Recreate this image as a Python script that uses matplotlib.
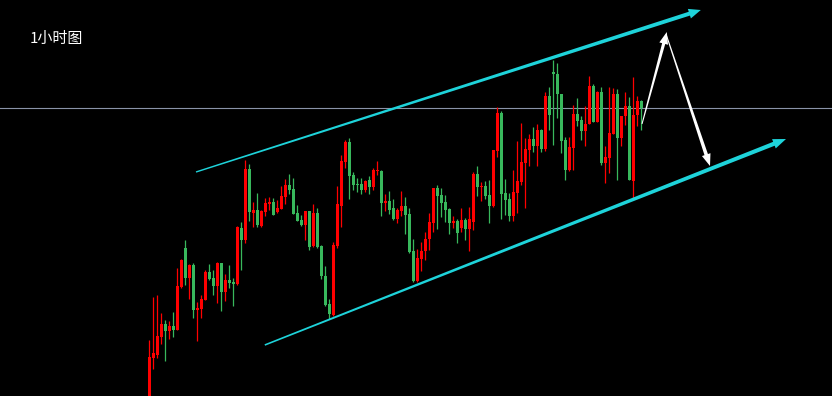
import matplotlib
matplotlib.use('Agg')
import matplotlib.pyplot as plt
from matplotlib.patches import Polygon
from matplotlib.transforms import IdentityTransform
import numpy as np

plt.rcParams['font.family'] = ['Noto Sans CJK SC', 'DejaVu Sans']

# 1-hour candles, price levels (arbitrary units)
opens = [-9, 38, 41, 59, 72, 65, 70, 66, 109, 148, 118, 131, 86, 87, 96, 124, 118, 110, 133, 104,
         116, 114, 112, 168, 156, 227, 183, 186, 170, 184, 192, 194, 184, 187, 199, 211, 207, 183, 176, 171,
         185, 150, 183, 150, 120, 92, 81, 150, 190, 234, 254, 221, 212, 212, 206, 216, 209, 225, 225, 193,
         195, 188, 177, 185, 190, 182, 145, 115, 137, 145, 157, 173, 208, 201, 194, 187, 173, 175, 168, 176,
         167, 174, 222, 209, 210, 201, 190, 245, 283, 203, 197, 180, 203, 214, 233, 246, 257, 250, 266, 247,
         300, 324, 322, 302, 256, 226, 248, 282, 276, 265, 272, 310, 274, 304, 233, 238, 262, 302, 258, 280,
         290, 215, 281, 295]
closes = [39, 43, 60, 72, 65, 70, 66, 110, 136, 118, 131, 86, 88, 97, 124, 117, 110, 133, 104, 116,
          113, 112, 169, 156, 227, 184, 186, 171, 185, 193, 194, 181, 188, 200, 211, 206, 182, 175, 171, 185,
          149, 183, 149, 120, 91, 82, 151, 192, 235, 254, 220, 211, 211, 206, 215, 209, 226, 226, 193, 195,
          186, 177, 186, 190, 181, 144, 115, 138, 145, 157, 174, 208, 200, 193, 186, 173, 175, 163, 176, 167,
          177, 222, 209, 210, 200, 190, 246, 283, 202, 196, 180, 204, 215, 234, 247, 257, 250, 266, 247, 300,
          281, 322, 302, 255, 226, 249, 282, 275, 265, 272, 310, 274, 304, 233, 239, 263, 302, 258, 280, 290,
          216, 281, 295, 288]
highs = [56, 99, 101, 83, 76, 75, 84, 128, 137, 156, 132, 133, 94, 101, 126, 132, 126, 134, 133, 122,
         131, 118, 170, 174, 236, 232, 194, 203, 186, 198, 199, 198, 196, 210, 217, 222, 218, 191, 181, 185,
         185, 192, 188, 151, 130, 97, 154, 210, 241, 256, 258, 224, 218, 218, 216, 220, 228, 235, 226, 202,
         205, 197, 188, 205, 199, 188, 157, 147, 154, 164, 183, 208, 211, 208, 201, 188, 180, 177, 188, 178,
         189, 224, 230, 214, 215, 216, 246, 289, 285, 217, 203, 226, 255, 273, 258, 262, 269, 272, 267, 304,
         309, 336, 333, 302, 259, 259, 291, 298, 280, 290, 320, 312, 305, 309, 250, 309, 308, 307, 280, 304,
         299, 319, 300, 296]
lows = [-9, 27, 38, 52, 35, 57, 59, 66, 108, 111, 97, 78, 55, 78, 96, 116, 101, 93, 85, 95,
        108, 90, 111, 126, 153, 175, 169, 169, 169, 180, 186, 181, 183, 187, 192, 202, 182, 175, 170, 156,
        146, 149, 148, 117, 90, 77, 80, 148, 169, 228, 197, 206, 204, 202, 204, 202, 206, 221, 180, 185,
        182, 176, 173, 180, 162, 143, 114, 114, 125, 136, 146, 164, 167, 179, 174, 162, 168, 153, 164, 156,
        145, 166, 200, 195, 197, 173, 189, 239, 177, 181, 175, 175, 183, 211, 188, 230, 244, 230, 244, 245,
        266, 251, 278, 243, 216, 225, 226, 270, 256, 250, 272, 274, 274, 231, 213, 223, 262, 216, 250, 271,
        216, 196, 270, 266]

# channel lines and projected path (candle index, price)
upper_channel = [(11.7, 224), (137.9, 386)]
lower_channel = [(28.9, 51), (159.2, 257)]
path_up = [(123.2, 272), (129.4, 364)]
path_down = [(129.2, 362), (140.2, 230)]

COLOR_UP = '#ff0000'
COLOR_DOWN = '#38b85c'
COLOR_CYAN = '#1ed3da'
COLOR_LEVEL = '#8a93a8'


def tapered_arrow(ax, start, end, w0, w1, head_len, head_w, color):
    """Arrow that widens toward its head, built in pixel space."""
    p0, p1 = ax.transData.transform([start, end])
    d = (p1 - p0) / np.hypot(*(p1 - p0))
    n = np.array([-d[1], d[0]])
    base = p1 - d * head_len
    pts = [p0 + n * w0 / 2, base + n * w1 / 2, base + n * head_w / 2, p1,
           base - n * head_w / 2, base - n * w1 / 2, p0 - n * w0 / 2]
    ax.add_patch(Polygon(pts, closed=True, facecolor=color, edgecolor='none',
                         transform=IdentityTransform(), clip_on=False, zorder=5))


fig = plt.figure(figsize=(8.32, 3.96), dpi=100, facecolor='black')
ax = fig.add_axes([0, 0, 1, 1], facecolor='black')
ax.set_xlim(-37.3, 170.7)
ax.set_ylim(0, 396)
ax.axis('off')

idx = np.arange(len(opens))
o = np.array(opens, dtype=float)
c = np.array(closes, dtype=float)
colors = [COLOR_UP if cc >= oo else COLOR_DOWN for oo, cc in zip(o, c)]

ax.vlines(idx, lows, highs, colors=colors, linewidth=0.9, zorder=2)
bottoms = np.minimum(o, c)
heights = np.maximum(np.abs(c - o), 1.2)
ax.bar(idx, heights, bottom=bottoms, width=0.75, color=colors, linewidth=0, zorder=3)

# last price level
ax.axhline(closes[-1], color=COLOR_LEVEL, linewidth=0.8, zorder=1)

tapered_arrow(ax, *upper_channel, 1.4, 4.0, 12, 10, COLOR_CYAN)
tapered_arrow(ax, *lower_channel, 1.6, 4.2, 13, 10, COLOR_CYAN)
tapered_arrow(ax, *path_up, 1.0, 3.2, 12, 9, 'white')
tapered_arrow(ax, *path_down, 1.0, 3.6, 12, 9, 'white')

ax.text(0.036, 0.902, '1小时图', transform=ax.transAxes, color='white',
        fontsize=10.8, ha='left', va='center')

fig.savefig('out.png', dpi=100, facecolor='black')
